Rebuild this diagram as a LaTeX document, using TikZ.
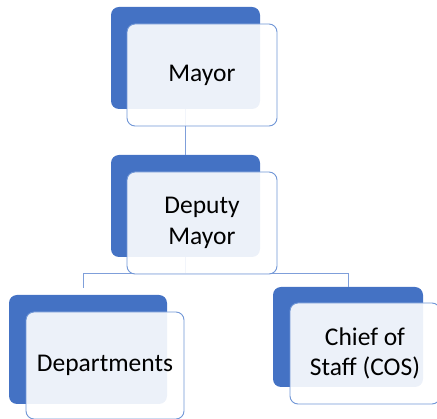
\documentclass[tikz,border=0pt]{standalone}
\usepackage{fontspec}
\setmainfont{Carlito}
\definecolor{accent}{HTML}{4472C4}
\definecolor{edgeblue}{HTML}{7096D6}
\definecolor{linkblue}{HTML}{7F9FDA}
\begin{document}
\begin{tikzpicture}[x=1pt,y=-1pt,
  backbox/.style={draw=none,fill=accent,rounded corners=8pt,inner sep=0pt},
  frontbox/.style={draw=edgeblue,line width=0.9pt,fill=white,fill opacity=0.9,text opacity=1,
    rounded corners=8pt,inner sep=0pt,align=center,
    font=\fontsize{25.5}{30.5}\selectfont},
  link/.style={draw=linkblue,line width=0.8pt}]
\useasboundingbox (0,0) rectangle (437,419);
% back boxes
\node[backbox,minimum width=149pt,minimum height=102pt] (mayorB) at (185.5,58) {};
\node[backbox,minimum width=149pt,minimum height=102pt] (deputyB) at (185.5,206) {};
\node[backbox,minimum width=158pt,minimum height=109pt] (deptB) at (88,349.5) {};
\node[backbox,minimum width=150pt,minimum height=100pt] (cosB) at (348,337) {};
\coordinate (deptTop) at (83,288);
% connectors
\draw[link] (mayorB.south) -- (deputyB.north);
\draw[link] (deputyB.south) -- ++(0,16.5) coordinate (hub) -| (deptTop);
\draw[link] (hub) -| (cosB.north);
% front boxes
\node[frontbox,minimum width=150pt,minimum height=102pt] (mayor) at (202,75) {Mayor};
\node[frontbox,minimum width=150pt,minimum height=102pt] (deputy) at (202,223) {Deputy\\Mayor};
\node[frontbox,minimum width=158pt,minimum height=107pt] (dept) at (105,365.5) {Departments};
\node[frontbox,minimum width=150pt,minimum height=101pt] (cos) at (365,353.5) {Chief of\\Staff (COS)};
\end{tikzpicture}
\end{document}
